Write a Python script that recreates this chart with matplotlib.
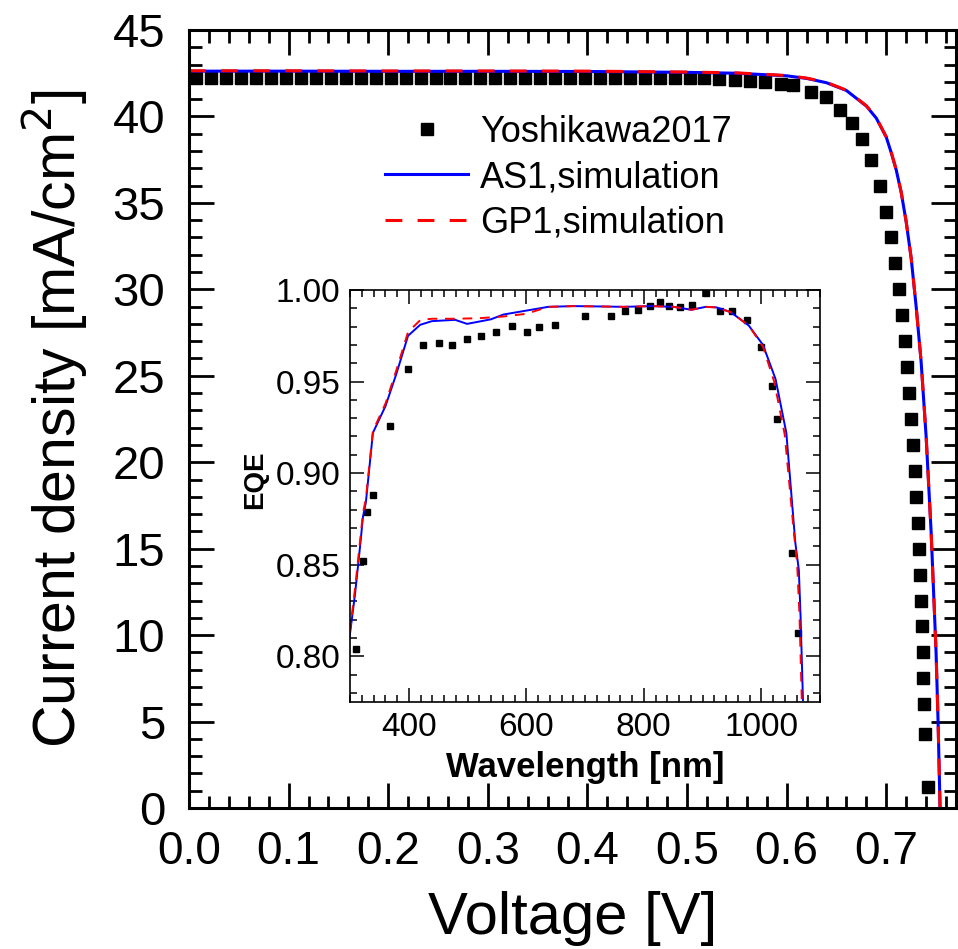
import matplotlib
matplotlib.use("Agg")
import matplotlib.pyplot as plt
from matplotlib.ticker import MultipleLocator

plt.rcParams['font.family'] = ['Liberation Sans', 'DejaVu Sans']

# measured J-V (Yoshikawa2017), V in volts, J in mA/cm2
v_meas = [0.0075, 0.0225, 0.0375, 0.0525, 0.0675, 0.0825, 0.0975, 0.1125, 0.1275, 0.1425,
          0.1575, 0.1725, 0.1875, 0.2025, 0.2175, 0.2325, 0.2475, 0.2625, 0.2775, 0.2925,
          0.3075, 0.3225, 0.3375, 0.3525, 0.3675, 0.3825, 0.3975, 0.4125, 0.4275, 0.4425,
          0.4575, 0.4725, 0.4875, 0.5025, 0.5175, 0.5325, 0.548, 0.563, 0.578, 0.594,
          0.606, 0.624, 0.639, 0.654, 0.666, 0.676, 0.685, 0.694, 0.700, 0.705,
          0.709, 0.713, 0.716, 0.719, 0.721, 0.723, 0.725, 0.727, 0.729, 0.730,
          0.732, 0.733, 0.734, 0.735, 0.736, 0.7365, 0.737, 0.7375, 0.739, 0.742]
j_meas = [42.25, 42.25, 42.25, 42.25, 42.25, 42.25, 42.25, 42.25, 42.25, 42.25,
          42.25, 42.25, 42.25, 42.25, 42.25, 42.25, 42.25, 42.25, 42.25, 42.25,
          42.25, 42.25, 42.25, 42.25, 42.25, 42.25, 42.25, 42.25, 42.25, 42.25,
          42.25, 42.22, 42.22, 42.2, 42.2, 42.15, 42.1, 42.05, 42.0, 41.9,
          41.8, 41.4, 41.1, 40.4, 39.6, 38.7, 37.5, 36.0, 34.5, 33.0,
          31.5, 30.0, 28.5, 27.0, 25.5, 24.0, 22.5, 21.0, 19.5, 18.0,
          16.5, 15.0, 13.5, 12.0, 10.5, 9.0, 7.5, 6.0, 4.3, 1.2]

# simulated J-V
v_sim = [0.0, 0.1, 0.2, 0.3, 0.4, 0.5, 0.55, 0.6, 0.62, 0.64, 0.66, 0.68, 0.69, 0.70,
         0.705, 0.71, 0.715, 0.72, 0.725, 0.73, 0.735, 0.74, 0.745, 0.75, 0.752, 0.754]
j_as1 = [42.62, 42.62, 42.61, 42.61, 42.6, 42.55, 42.5, 42.35, 42.2, 41.95, 41.5, 40.6, 39.9, 38.8,
         37.9, 36.9, 35.6, 33.9, 31.8, 29.0, 25.8, 21.5, 16.0, 9.0, 5.0, 0.0]
j_gp1 = [42.64, 42.64, 42.63, 42.63, 42.62, 42.57, 42.52, 42.37, 42.22, 41.97, 41.52, 40.62, 39.92, 38.82,
         37.92, 36.92, 35.62, 33.92, 31.82, 29.02, 25.82, 21.52, 16.02, 9.02, 5.02, 0.0]

# EQE, measured
wl_meas = [310.4, 321.6, 328.7, 339, 368.3, 398.2, 425, 451.8, 473.7, 499.3,
           523.7, 548, 575.4, 601.6, 621.7, 649, 699.7, 743.6, 768, 791,
           810.6, 828, 843.5, 861.8, 882.5, 906, 930.6, 950, 975.7, 1000,
           1017.7, 1027.5, 1051.8, 1062]
eqe_meas = [0.804, 0.852, 0.879, 0.888, 0.926, 0.957, 0.970, 0.971, 0.970, 0.9734,
            0.975, 0.977, 0.9806, 0.977, 0.9797, 0.981, 0.986, 0.986, 0.9886, 0.9892,
            0.9912, 0.9936, 0.9912, 0.9905, 0.9918, 0.9982, 0.9883, 0.9883, 0.9837, 0.9687,
            0.9476, 0.9293, 0.8564, 0.8127]

# EQE, simulated
wl_as1 = [299.5, 308.6, 317.8, 322, 327, 339, 360.4, 378.7, 398.8, 419.5, 439.6, 479, 499.3,
          540, 561, 601, 637.6, 680, 729, 765.5, 814, 851, 881, 905.6, 924, 948, 978.7,
          1003, 1024.4, 1042.7, 1058, 1064, 1067, 1071]
eqe_as1 = [0.811, 0.834, 0.862, 0.876, 0.884, 0.922, 0.9366, 0.954, 0.975, 0.981, 0.983, 0.9837, 0.9815,
           0.984, 0.9866, 0.9888, 0.9908, 0.9912, 0.991, 0.9908, 0.9912, 0.9908, 0.9892, 0.9908, 0.9905, 0.9879, 0.9806,
           0.970, 0.9513, 0.922, 0.862, 0.847, 0.821, 0.776]
wl_gp1 = [299.5, 308.6, 317.8, 322, 327, 339, 360.4, 378.7, 398.8, 420, 440, 480, 520,
          560, 600, 637.6, 680, 729, 765.5, 814, 851, 881, 905.6, 924, 948, 978.7,
          1003, 1022, 1040, 1056, 1061, 1065, 1069]
eqe_gp1 = [0.813, 0.837, 0.865, 0.878, 0.886, 0.923, 0.938, 0.956, 0.977, 0.9837, 0.9843, 0.9843, 0.9846,
           0.9855, 0.987, 0.9908, 0.9912, 0.991, 0.9908, 0.9912, 0.9908, 0.9892, 0.9908, 0.9905, 0.9879, 0.9806,
           0.969, 0.950, 0.921, 0.866, 0.851, 0.823, 0.776]

W, H = 958, 949
fig = plt.figure(figsize=(W / 100, H / 100), dpi=100)

# main J-V axes
ax = fig.add_axes([189 / W, 1 - 808 / H, (956 - 189) / W, (808 - 30) / H])
ax.plot(v_meas, j_meas, ls="none", marker="s", ms=9, color="k", mec="k", label="Yoshikawa2017")
ax.plot(v_sim, j_as1, color="#0000ff", lw=2.2, label="AS1,simulation")
ax.plot(v_sim, j_gp1, color="#ff0000", lw=2.2, dashes=(5.5, 5), label="GP1,simulation")

ax.set_xlim(0, 0.77)
ax.set_ylim(0, 45)
ax.xaxis.set_major_locator(MultipleLocator(0.1))
ax.xaxis.set_minor_locator(MultipleLocator(0.02))
ax.yaxis.set_major_locator(MultipleLocator(5))
ax.yaxis.set_minor_locator(MultipleLocator(1))
ax.xaxis.set_major_formatter(lambda x, pos: f"{x:.1f}")
ax.tick_params(which="both", direction="in", top=True, right=True, width=2)
ax.tick_params(which="major", length=18)
ax.tick_params(which="minor", length=9)
ax.tick_params(axis="x", pad=16, labelsize=33)
ax.tick_params(axis="y", pad=17, labelsize=34)
for s in ax.spines.values():
    s.set_linewidth(2.2)
ax.set_xlabel("Voltage [V]", fontsize=43, labelpad=12)
ax.set_ylabel("Current density [mA/cm$^2$]", fontsize=42.5, labelpad=16)

leg = ax.legend(loc="upper left", bbox_to_anchor=(385 / W, 1 - 115 / H), bbox_transform=fig.transFigure,
                frameon=False, fontsize=26, numpoints=1, handlelength=2.3, handletextpad=0.33,
                labelspacing=0.28, borderpad=0, borderaxespad=0)

# EQE inset
ins = fig.add_axes([350 / W, 1 - 702 / H, 470 / W, 412 / H])
ins.plot(wl_meas, eqe_meas, ls="none", marker="s", ms=5, color="k")
ins.plot(wl_as1, eqe_as1, color="#0000ff", lw=1.4)
ins.plot(wl_gp1, eqe_gp1, color="#ff0000", lw=1.4, dashes=(5, 4))
ins.set_xlim(300, 1100)
ins.set_ylim(0.775, 1.0)
ins.xaxis.set_major_locator(MultipleLocator(200))
ins.xaxis.set_minor_locator(MultipleLocator(20))
ins.yaxis.set_major_locator(MultipleLocator(0.05))
ins.yaxis.set_minor_locator(MultipleLocator(0.01))
ins.yaxis.set_major_formatter(lambda y, pos: f"{y:.2f}")
ins.tick_params(which="both", direction="in", top=True, right=True, width=1.1, labelsize=24)
ins.tick_params(which="major", length=10)
ins.tick_params(which="minor", length=5)
ins.tick_params(axis="both", pad=7)
for s in ins.spines.values():
    s.set_linewidth(1.2)
ins.set_xlabel("Wavelength [nm]", fontsize=25, fontweight="bold", labelpad=6)
ins.set_ylabel("EQE", fontsize=20, fontweight="bold", labelpad=6)
ins.yaxis.set_label_coords(-0.175, 0.54)

fig.savefig("out.png", dpi=100)
